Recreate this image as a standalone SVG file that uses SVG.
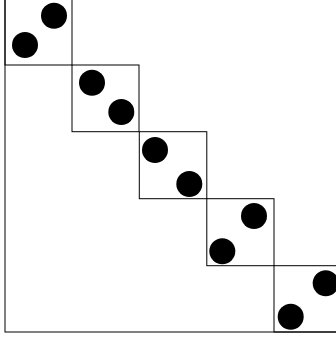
<svg xmlns="http://www.w3.org/2000/svg" width="336" height="340" viewBox="0 0 336 340">
<style>
.b{fill:none;stroke:#000;stroke-width:1}
.d{fill:#000}
</style>
<rect width="336" height="340" fill="#fff"/>
<rect class="b" x="5" y="-2" width="335" height="334"/>
<g id="box1"><rect class="b" x="5" y="-2" width="67" height="67"/><circle class="d" cx="54" cy="15.7" r="13"/><circle class="d" cx="25" cy="45" r="13"/></g>
<g id="box2"><rect class="b" x="72" y="65" width="67" height="66.7"/><circle class="d" cx="92" cy="82.7" r="13"/><circle class="d" cx="121.3" cy="112" r="13"/></g>
<g id="box3"><rect class="b" x="139.3" y="131.7" width="67.5" height="67"/><circle class="d" cx="155" cy="150" r="13"/><circle class="d" cx="189.3" cy="184" r="13"/></g>
<g id="box4"><rect class="b" x="206.8" y="198.7" width="67.2" height="67"/><circle class="d" cx="254" cy="216" r="13"/><circle class="d" cx="222.3" cy="251.3" r="13"/></g>
<g id="box5"><rect class="b" x="274" y="265.7" width="70" height="66.3"/><circle class="d" cx="325.7" cy="283.3" r="13"/><circle class="d" cx="290.7" cy="316.7" r="13"/></g>
</svg>
